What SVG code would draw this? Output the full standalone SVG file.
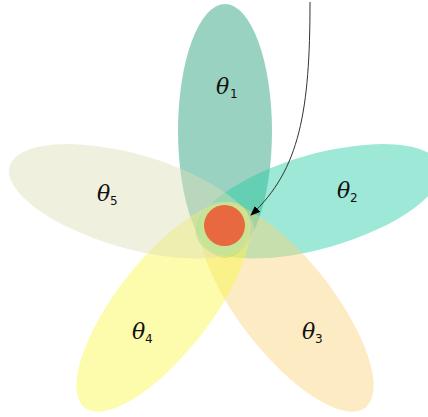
<svg xmlns="http://www.w3.org/2000/svg" width="428" height="417" viewBox="0 0 428 417">
<defs>
<style>
.petal{fill-opacity:0.45;}
.th{font-family:"DejaVu Serif","Liberation Serif",serif;font-style:italic;font-size:22px;fill:#111;}
.sub{font-family:"DejaVu Sans","Liberation Sans",sans-serif;font-size:12px;fill:#111;}
.conn{fill:none;stroke:#333;stroke-width:1;}
</style>
<marker id="ah" markerWidth="10" markerHeight="8" refX="9" refY="4" orient="auto" markerUnits="userSpaceOnUse">
<path d="M0,0 L10,4 L0,8 Z" fill="#000"/>
</marker>
</defs>
<rect width="428" height="417" fill="#fff"/>
<g transform="translate(225,228)">
<g id="petal1"><ellipse class="petal" cx="0" cy="-97" rx="47" ry="127" fill="#1f9b75"/></g>
<g id="petal2"><ellipse class="petal" cx="0" cy="-97" rx="47" ry="127" fill="#25cca4" transform="rotate(74)"/></g>
<g id="petal3"><ellipse class="petal" cx="0" cy="-100" rx="47" ry="128" fill="#fbd37c" transform="rotate(142)"/></g>
<g id="petal4"><ellipse class="petal" cx="0" cy="-100" rx="47" ry="128" fill="#f8f847" transform="rotate(218)"/></g>
<g id="petal5"><ellipse class="petal" cx="0" cy="-97" rx="47" ry="127" fill="#dedeb6" transform="rotate(286)"/></g>
</g>
<g id="center">
<circle cx="222" cy="229" r="26" fill="#b8e69a" fill-opacity="0.5"/>
<circle cx="224.5" cy="225.5" r="20.5" fill="#e8683f"/>
</g>
<g id="labels">
<text class="th" x="216" y="94">θ</text><text class="sub" x="230" y="98">1</text>
<text class="th" x="337" y="198">θ</text><text class="sub" x="350" y="202">2</text>
<text class="th" x="302" y="339">θ</text><text class="sub" x="315" y="343">3</text>
<text class="th" x="132" y="339">θ</text><text class="sub" x="145" y="343">4</text>
<text class="th" x="97" y="201">θ</text><text class="sub" x="110" y="205">5</text>
</g>
<g id="connectors">
<path class="conn" d="M310 2 C310 110 300 170 251 215" marker-end="url(#ah)"/>
</g>
</svg>
